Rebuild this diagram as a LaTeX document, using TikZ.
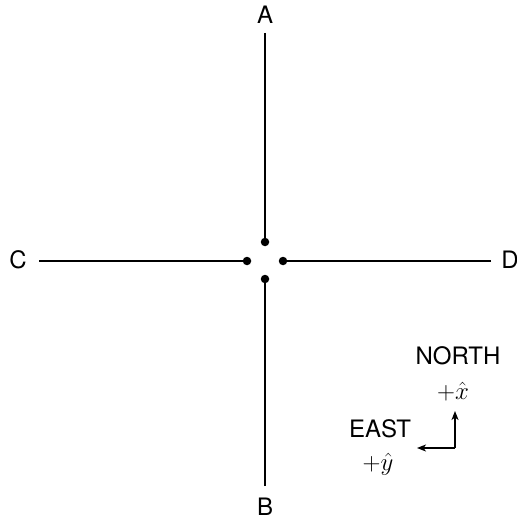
\documentclass[tikz,border=0pt]{standalone}
\usepackage{fontspec}
\setmainfont{TeX Gyre Heros}
\usetikzlibrary{arrows.meta}
\begin{document}
\begin{tikzpicture}[x=1pt,y=-1pt,
  lbl/.style={inner sep=0pt,font=\fontsize{24}{28}\selectfont},
  mlbl/.style={inner sep=0pt,font=\fontsize{23}{27}\selectfont},
  road/.style={line width=2.7pt},
  dotend/.style={circle,fill=black,inner sep=0pt,minimum size=8.5pt},
  comp/.style={line width=1.4pt,-{Stealth[length=9pt,width=7pt,inset=2.5pt]}}]
\useasboundingbox (0,0) rectangle (516,521);
% labels
\node[lbl] (A) at (265,15) {A};
\node[lbl] (B) at (265,507) {B};
\node[lbl] (C) at (18,260) {C};
\node[lbl] (D) at (510,260) {D};
% road ends
\coordinate (At) at (265,33);
\coordinate (Bt) at (265,486);
\coordinate (Ct) at (39,261);
\coordinate (Dt) at (491,261);
\node[dotend] (dA) at (265,242) {};
\node[dotend] (dB) at (265,279) {};
\node[dotend] (dC) at (247,261) {};
\node[dotend] (dD) at (283,261) {};
\draw[road] (At) -- (dA.center);
\draw[road] (Bt) -- (dB.center);
\draw[road] (Ct) -- (dC.center);
\draw[road] (Dt) -- (dD.center);
% compass
\node[lbl] (north) at (458,356) {NORTH};
\node[mlbl] (xh) at (453,392) {$+\hat{x}$};
\node[lbl] (east) at (380,429) {EAST};
\node[mlbl] (yh) at (378,464) {$+\hat{y}$};
\coordinate (corner) at (455,448);
\coordinate (ntip) at (455,411);
\coordinate (etip) at (417,448);
\draw[comp] (corner) -- (ntip);
\draw[comp] (corner) -- (etip);
\end{tikzpicture}
\end{document}
